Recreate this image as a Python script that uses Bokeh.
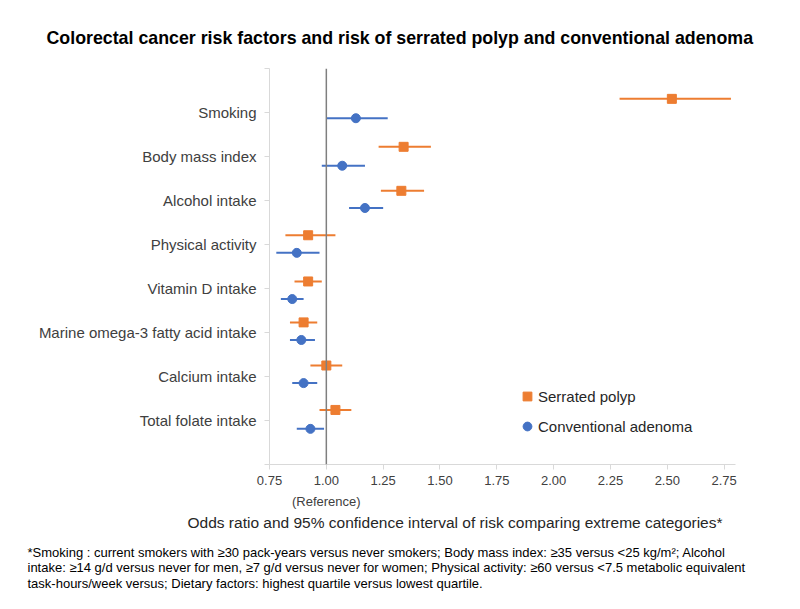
from bokeh.plotting import figure
from bokeh.models import (Range1d, FixedTicker, Span, Legend, LegendItem, Title)
from bokeh.embed import file_html
from bokeh.resources import INLINE

# ---------------- data ----------------
factors = ["Smoking", "Body mass index", "Alcohol intake", "Physical activity",
           "Vitamin D intake", "Marine omega-3 fatty acid intake",
           "Calcium intake", "Total folate intake"]
factor_pos = [8, 7, 6, 5, 4, 3, 2, 1]

serrated_y = [8.31, 7.22, 6.22, 5.21, 4.16, 3.23, 2.25, 1.24]
serrated_or = [2.52, 1.34, 1.33, 0.92, 0.92, 0.90, 1.00, 1.04]
serrated_lo = [2.29, 1.23, 1.24, 0.82, 0.86, 0.84, 0.93, 0.97]
serrated_hi = [2.78, 1.46, 1.43, 1.04, 0.98, 0.96, 1.07, 1.11]

adenoma_y = [7.87, 6.79, 5.83, 4.81, 3.76, 2.83, 1.85, 0.81]
adenoma_or = [1.13, 1.07, 1.17, 0.87, 0.85, 0.89, 0.90, 0.93]
adenoma_lo = [1.00, 0.98, 1.10, 0.78, 0.80, 0.84, 0.85, 0.87]
adenoma_hi = [1.27, 1.17, 1.25, 0.97, 0.90, 0.95, 0.96, 0.99]

x_ticks = [0.75, 1.00, 1.25, 1.50, 1.75, 2.00, 2.25, 2.50, 2.75]
x_tick_labels = ["0.75", "1.00\n(Reference)", "1.25", "1.50", "1.75", "2.00",
                 "2.25", "2.50", "2.75"]

title_text = "Colorectal cancer risk factors and risk of serrated polyp and conventional adenoma"
x_title = "Odds ratio and 95% confidence interval of risk comparing extreme categories*"
footnote = [
    "*Smoking : current smokers with \u226530 pack-years versus never smokers; Body mass index: \u226535 versus <25 kg/m\u00b2; Alcohol",
    "intake: \u226514 g/d versus never for men, \u22657 g/d versus never for women; Physical activity: \u226560 versus <7.5 metabolic equivalent",
    "task-hours/week versus; Dietary factors: highest quartile versus lowest quartile.",
]

ORANGE = "#ED7D31"
BLUE = "#4472C4"
FONT = "Liberation Sans"

p = figure(width=800, height=609, output_backend="svg", toolbar_location=None,
           x_range=Range1d(0.75, 2.8), y_range=Range1d(0, 9),
           min_border_left=269, min_border_right=65, min_border_top=68,
           min_border_bottom=145)
p.outline_line_color = None
p.xgrid.visible = False
p.ygrid.visible = False
p.background_fill_color = "white"
p.border_fill_color = "white"

# title
p.title = Title(text=title_text, align="left", offset=-223, standoff=42,
                text_font=FONT, text_font_size="17.8px", text_font_style="bold",
                text_color="black")

# axes
p.xaxis.ticker = FixedTicker(ticks=x_ticks)
p.xaxis.major_label_overrides = {t: l for t, l in zip(x_ticks, x_tick_labels)}
p.yaxis.ticker = FixedTicker(ticks=list(range(0, 10)))
ov = {i: "" for i in range(0, 10)}
for f, pos in zip(factors, factor_pos):
    ov[pos] = f
p.yaxis.major_label_overrides = ov
for ax in (p.xaxis, p.yaxis):
    ax.axis_line_color = "#d9d9d9"
    ax.major_tick_line_color = "#d9d9d9"
    ax.minor_tick_line_color = None
    ax.major_tick_in = 0
    ax.major_tick_out = 5
    ax.major_label_text_font = FONT
ax = p.yaxis[0]
ax.major_label_text_font_size = "15px"
ax.major_label_text_color = "#404040"
ax.major_label_standoff = 8
ax = p.xaxis[0]
ax.major_label_text_font_size = "13px"
ax.major_label_text_color = "#404040"
ax.major_label_text_line_height = 1.4
ax.major_label_standoff = 3

# x-axis title and footnote as below-panel titles
p.add_layout(Title(text=x_title, align="left", offset=-82, standoff=0,
                   text_font=FONT, text_font_size="15.5px", text_font_style="normal",
                   text_color="#262626"), "below")
p.add_layout(Title(text="\n".join(footnote), align="left", offset=-242, standoff=23,
                   text_font=FONT, text_font_size="13px", text_font_style="normal",
                   text_line_height=1.05, text_color="black"), "below")

# reference line
p.add_layout(Span(location=1.0, dimension="height", line_color="#7f7f7f", line_width=1.5))

# CIs and points
p.segment(x0=serrated_lo, x1=serrated_hi, y0=serrated_y, y1=serrated_y,
          line_color=ORANGE, line_width=2)
p.segment(x0=adenoma_lo, x1=adenoma_hi, y0=adenoma_y, y1=adenoma_y,
          line_color=BLUE, line_width=2)
r_s = p.scatter(x=serrated_or, y=serrated_y, marker="square", size=9,
                fill_color=ORANGE, line_color=ORANGE)
r_a = p.scatter(x=adenoma_or, y=adenoma_y, marker="circle", size=9,
                fill_color=BLUE, line_color=BLUE)

legend = Legend(items=[LegendItem(label="Serrated polyp", renderers=[r_s]),
                       LegendItem(label="Conventional adenoma", renderers=[r_a])],
                location=(247, 27), orientation="vertical",
                glyph_width=22, glyph_height=22, label_height=22,
                label_standoff=-1, spacing=8, padding=0, margin=0,
                border_line_alpha=0, background_fill_alpha=0,
                label_text_font=FONT, label_text_font_size="15px",
                label_text_color="#262626")
p.add_layout(legend, "center")

open("out.html", "w").write(file_html(p, INLINE))
